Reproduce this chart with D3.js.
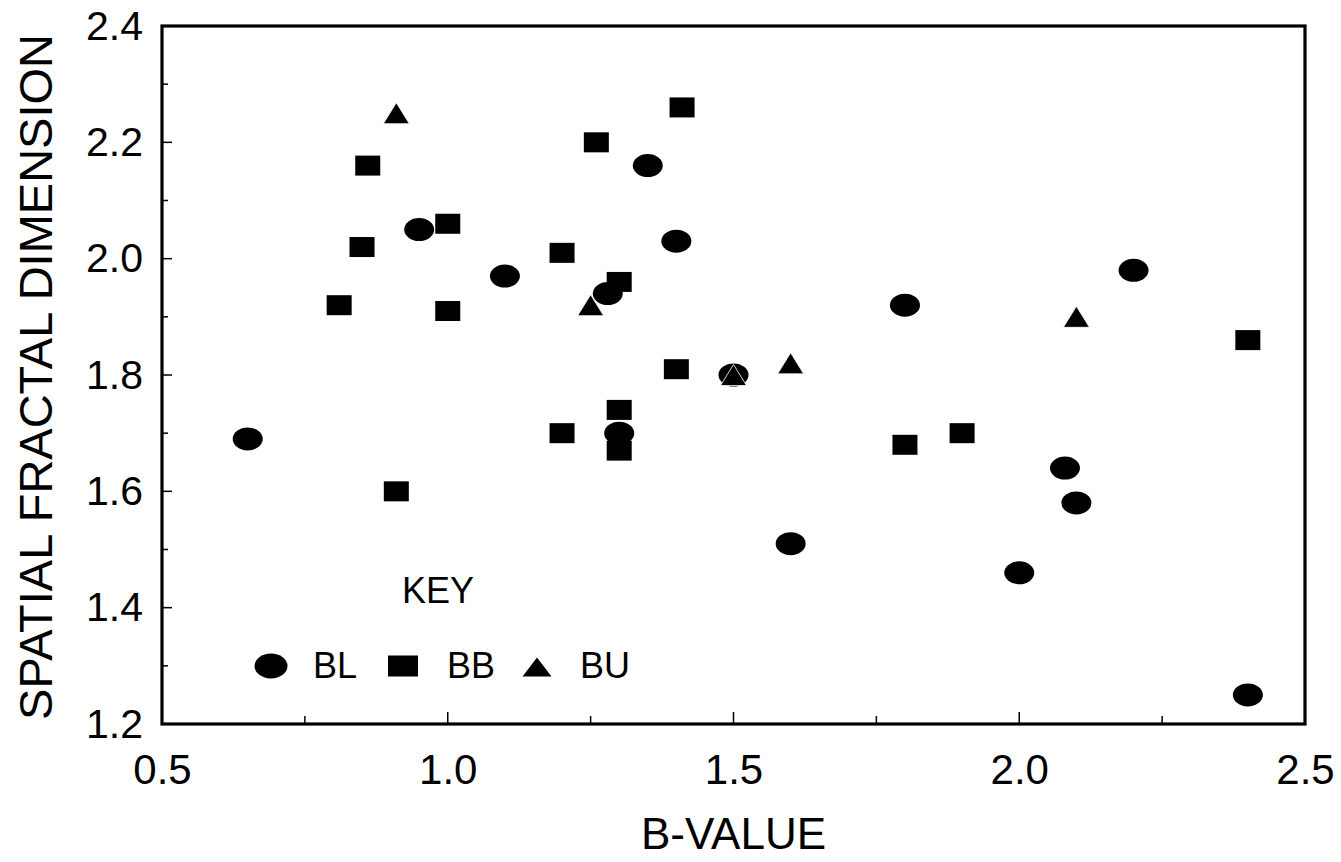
<!DOCTYPE html>
<html>
<head>
<meta charset="utf-8">
<script src="https://cdn.jsdelivr.net/npm/d3@7"></script>
<style>
  html, body { margin: 0; padding: 0; background: #fff; }
  svg { display: block; }
  text { font-family: "Liberation Sans", Arial, sans-serif; fill: #000; }
</style>
</head>
<body>
<svg id="chart" width="1341" height="862"></svg>
<script>
// B-value vs spatial fractal dimension, three groups
const blB = [0.65, 0.95, 1.10, 1.35, 1.40, 1.28, 1.80, 2.20, 1.50, 1.30, 1.60, 2.00, 2.08, 2.10, 2.40];
const blD = [1.69, 2.05, 1.97, 2.16, 2.03, 1.94, 1.92, 1.98, 1.80, 1.70, 1.51, 1.46, 1.64, 1.58, 1.25];

const bbB = [0.86, 0.85, 0.81, 1.00, 1.00, 1.20, 1.26, 1.41, 1.30, 1.40, 1.30, 1.30, 1.20, 0.91, 1.80, 1.90, 2.40];
const bbD = [2.16, 2.02, 1.92, 2.06, 1.91, 2.01, 2.20, 2.26, 1.96, 1.81, 1.74, 1.67, 1.70, 1.60, 1.68, 1.70, 1.86];

const buB = [0.91, 1.25, 1.50, 1.60, 2.10];
const buD = [2.25, 1.92, 1.80, 1.82, 1.90];

const xTicks = [0.5, 1.0, 1.5, 2.0, 2.5];
const yTicks = [1.2, 1.4, 1.6, 1.8, 2.0, 2.2, 2.4];
const legendKeys = ["BL", "BB", "BU"];

const svg = d3.select("#chart");
const plotL = 162, plotR = 1305, plotT = 26, plotB = 724;

const x = d3.scaleLinear().domain([0.5, 2.5]).range([plotL, plotR]);
const y = d3.scaleLinear().domain([1.2, 2.4]).range([plotB, plotT]);

// minor ticks (inside)
const xMinor = d3.range(0.75, 2.5, 0.5);
const yMinor = d3.range(1.3, 2.4, 0.2);

const axes = svg.append("g");

// tick labels via d3 axes; tick marks drawn inward below
const xAxis = d3.axisBottom(x).tickValues(xTicks).tickFormat(d3.format(".1f")).tickSize(0).tickPadding(30);
axes.append("g").attr("transform", `translate(0,${plotB})`).call(xAxis)
  .call(g => g.select(".domain").remove())
  .call(g => g.selectAll("text").attr("font-size", 42).attr("font-family", "Liberation Sans, Arial, sans-serif"));

const yAxis = d3.axisLeft(y).tickValues(yTicks).tickFormat(d3.format(".1f")).tickSize(0).tickPadding(19);
axes.append("g").attr("transform", `translate(${plotL},0)`).call(yAxis)
  .call(g => g.select(".domain").remove())
  .call(g => g.selectAll("text").attr("font-size", 41).attr("font-family", "Liberation Sans, Arial, sans-serif"));

// inward ticks
const tickG = svg.append("g").attr("stroke", "#000").attr("stroke-width", 1.5);
tickG.selectAll(".xmaj").data(xTicks.slice(1, -1)).join("line")
  .attr("x1", d => x(d)).attr("x2", d => x(d)).attr("y1", plotB).attr("y2", plotB - 12);
tickG.selectAll(".xmin").data(xMinor).join("line")
  .attr("x1", d => x(d)).attr("x2", d => x(d)).attr("y1", plotB).attr("y2", plotB - 8);
tickG.selectAll(".ymaj").data(yTicks.slice(1, -1)).join("line")
  .attr("x1", plotL).attr("x2", plotL + 10).attr("y1", d => y(d)).attr("y2", d => y(d));
tickG.selectAll(".ymin").data(yMinor).join("line")
  .attr("x1", plotL).attr("x2", plotL + 6).attr("y1", d => y(d)).attr("y2", d => y(d));

// frame
svg.append("rect")
  .attr("x", plotL).attr("y", plotT)
  .attr("width", plotR - plotL).attr("height", plotB - plotT)
  .attr("fill", "none").attr("stroke", "#000").attr("stroke-width", 3.2);

// axis titles
svg.append("text")
  .attr("x", (plotL + plotR) / 2).attr("y", 849)
  .attr("text-anchor", "middle").attr("font-size", 44)
  .text("B-VALUE");

svg.append("text")
  .attr("transform", `translate(52,${(plotT + plotB) / 2 + 2}) rotate(-90)`)
  .attr("text-anchor", "middle").attr("font-size", 47)
  .text("SPATIAL FRACTAL DIMENSION");

// marker shapes
const rx = 15, ry = 11.5;      // ellipse
const sw = 25, sh = 20;        // square
const tw = 26, th = 21;        // triangle
const triPath = (cx, cy, w, h) => `M${cx - w / 2},${cy + h / 2}L${cx},${cy - h / 2}L${cx + w / 2},${cy + h / 2}Z`;

const marks = svg.append("g");

marks.selectAll(".bl").data(blB.map((b, i) => [b, blD[i]])).join("ellipse")
  .attr("cx", d => x(d[0])).attr("cy", d => y(d[1]))
  .attr("rx", rx).attr("ry", ry).attr("fill", "#000");

marks.selectAll(".bb").data(bbB.map((b, i) => [b, bbD[i]])).join("rect")
  .attr("x", d => x(d[0]) - sw / 2).attr("y", d => y(d[1]) - sh / 2)
  .attr("width", sw).attr("height", sh).attr("fill", "#000");

marks.selectAll(".bu").data(buB.map((b, i) => [b, buD[i]])).join("path")
  .attr("d", d => triPath(x(d[0]), y(d[1]), tw, th))
  .attr("fill", "#000").attr("stroke", "#fff").attr("stroke-width", 0.8);

// key
const key = svg.append("g");
key.append("text").attr("x", 402).attr("y", 603).attr("font-size", 36).text("KEY");
const keyY = 666;
key.append("ellipse").attr("cx", 271).attr("cy", keyY).attr("rx", 16.5).attr("ry", 12.5).attr("fill", "#000");
key.append("rect").attr("x", 403 - 15).attr("y", keyY - 10.5).attr("width", 30).attr("height", 21).attr("fill", "#000");
key.append("path").attr("d", triPath(537, keyY + 1, 29, 19)).attr("fill", "#000");
const keyTextX = [313, 447, 580];
key.selectAll(".lt").data(legendKeys).join("text")
  .attr("x", (d, i) => keyTextX[i]).attr("y", 678).attr("font-size", 36)
  .text(d => d);
</script>
</body>
</html>
